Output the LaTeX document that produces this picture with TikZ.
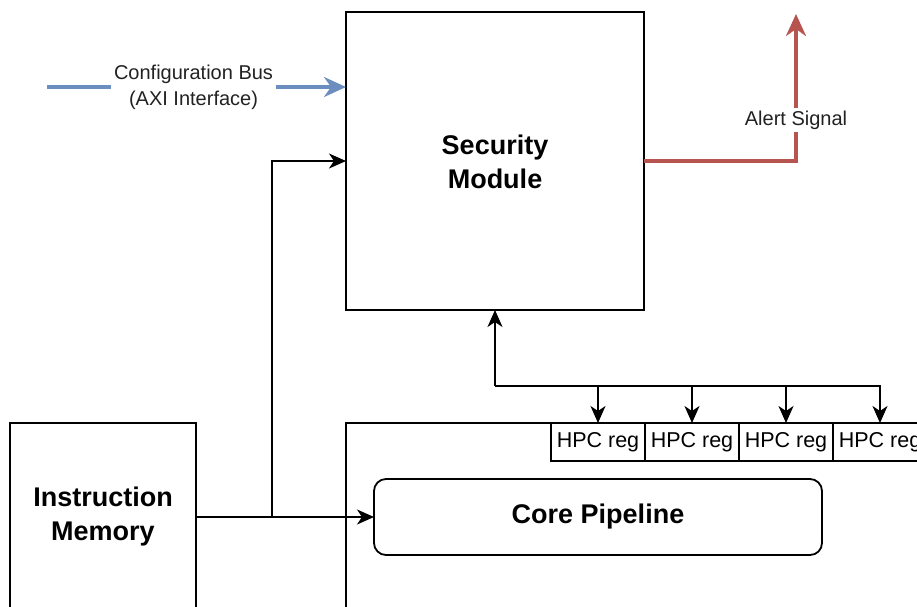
\documentclass[tikz,border=0pt]{standalone}
\usepackage{fontspec}
\setmainfont{Liberation Sans}
\usetikzlibrary{arrows.meta}
\definecolor{bluec}{HTML}{6C8EBF}
\definecolor{redc}{HTML}{B85450}
\definecolor{txtc}{HTML}{222222}
\begin{document}
\begin{tikzpicture}[x=1pt,y=-1pt,line width=1.8pt,
  box/.style={draw=black,anchor=north west,inner sep=0pt,outer sep=0pt},
  bigtext/.style={font=\fontsize{27}{34}\selectfont\bfseries,align=center},
  hpcbox/.style={box,minimum width=94pt,minimum height=38pt,line width=1.4pt,
    font=\fontsize{21.5}{24}\selectfont},
  lbl/.style={fill=white,inner sep=3pt,align=center,text=txtc,
    font=\fontsize{20}{26}\selectfont},
  arr/.style={-{Stealth[length=17pt,width=15pt,inset=5pt]}},
  bluearr/.style={draw=bluec,line width=3.2pt,-{Stealth[length=22pt,width=20pt,inset=7pt]}},
  redarr/.style={draw=redc,line width=3.2pt,-{Stealth[length=22pt,width=20pt,inset=7pt]}}]
\clip (0,0) rectangle (917,606);
\fill[white] (0,0) rectangle (917,606);
% blocks
\node[box,minimum width=298pt,minimum height=298pt] (sec) at (346,12) {};
\node[bigtext] at ([yshift=-1pt]sec.center) {Security\\Module};
\node[box,minimum width=186pt,minimum height=188pt] (mem) at (10,423) {};
\node[bigtext] at (mem.center) {Instruction\\Memory};
\node[box,minimum width=650pt,minimum height=250pt] (core) at (346,423) {};
\node[box,rounded corners=12pt,minimum width=448pt,minimum height=76pt] (pipe) at (374,479) {};
\node[bigtext] at (pipe.center) {Core Pipeline};
\node[hpcbox] (h1) at (551,423) {HPC reg};
\node[hpcbox] (h2) at (645,423) {HPC reg};
\node[hpcbox] (h3) at (739,423) {HPC reg};
\node[hpcbox] (h4) at (833,423) {HPC reg};
% HPC bus
\coordinate (bus) at (495,386);
\draw[arr] (bus) -- (sec.south);
\draw[arr] (bus) -| (h4.north);
\draw[arr] (h1.north |- bus) -- (h1.north);
\draw[arr] (h2.north |- bus) -- (h2.north);
\draw[arr] (h3.north |- bus) -- (h3.north);
% instruction memory
\coordinate (br) at (272,517);
\draw[arr] (mem.east) -- (pipe.west |- mem.east);
\draw[arr] (br) |- (sec.west);
% configuration bus
\coordinate (cfg) at (47,87);
\draw[bluearr] (cfg) -- (sec.west |- cfg)
  node[lbl,pos=0.49] {Configuration Bus\\(AXI Interface)};
% alert
\coordinate (alert) at (796,14);
\draw[redarr] (sec.east) -| (alert);
\node[lbl] at (796,120) {Alert Signal};
\end{tikzpicture}
\end{document}
